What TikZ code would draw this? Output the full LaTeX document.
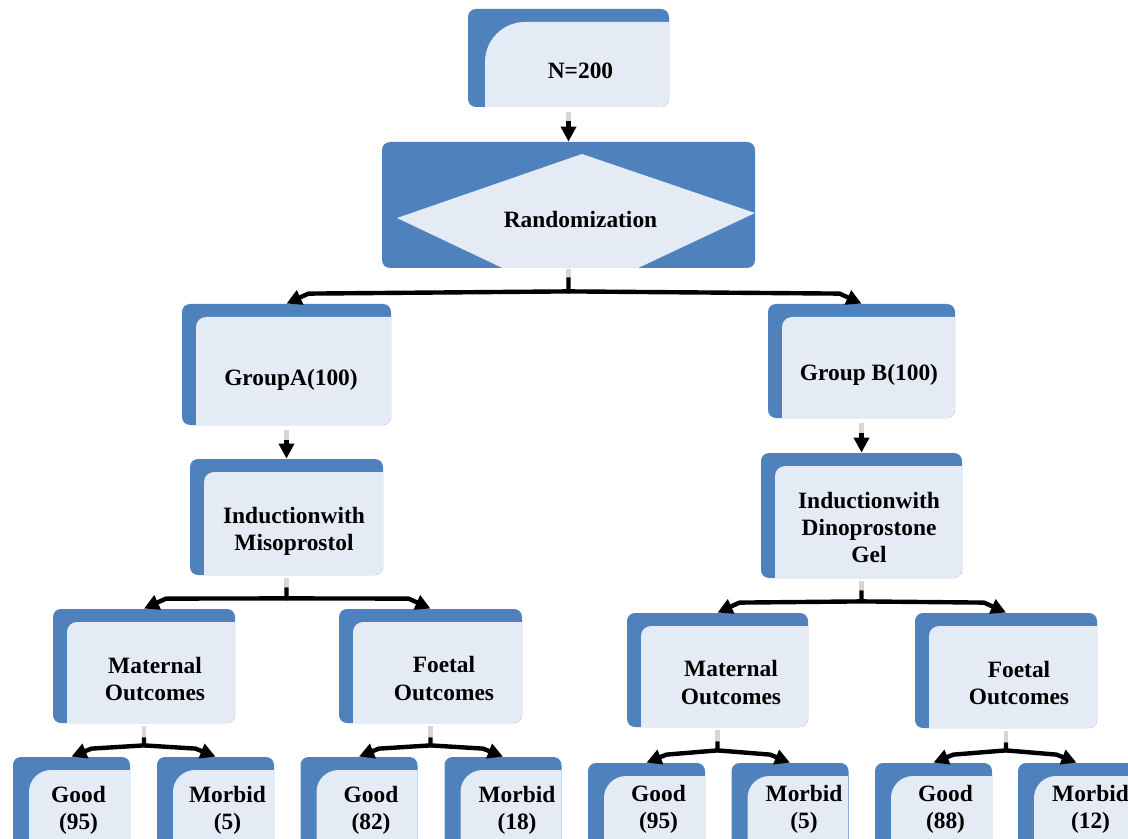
\documentclass[tikz,border=0pt]{standalone}
\usepackage{fontspec}
\setmainfont{Liberation Serif}
\usepackage{tikz}
\usetikzlibrary{arrows.meta}
\definecolor{cardblue}{HTML}{4F81BD}
\definecolor{cardlight}{HTML}{E5EBF4}
\definecolor{stubgray}{HTML}{D6D6D6}
\tikzset{card inx/.store in=\cardinx, card iny/.store in=\cardiny, card rad/.store in=\cardrad,
	card inx=7pt, card iny=6.5pt, card rad=5pt}
\tikzstyle{card}=[rectangle,fill=cardblue,rounded corners=4pt,inner sep=0pt,
	path picture={\fill[cardlight,sharp corners]
		([xshift=\cardinx]path picture bounding box.south west)
		-- ([xshift=\cardinx,yshift=-\cardiny-\cardrad]path picture bounding box.north west)
		arc[start angle=180,end angle=90,radius=\cardrad]
		-- ([yshift=-\cardiny]path picture bounding box.north east)
		-- (path picture bounding box.south east) -- cycle;}]
\tikzstyle{randbox}=[rectangle,fill=cardblue,rounded corners=4pt,inner sep=0pt,
	path picture={\fill[cardlight,sharp corners]
		([shift={(-85.75pt,-6.5pt)}]path picture bounding box.center)
		-- ([shift={(6.75pt,25.5pt)}]path picture bounding box.center)
		-- ([shift={(93.25pt,-4pt)}]path picture bounding box.center)
		-- ([shift={(0.75pt,-47.5pt)}]path picture bounding box.center) -- cycle;}]
\tikzstyle{cardtext}=[inner sep=0pt,align=center,text=black,
	font=\bfseries\fontsize{11.7}{13.6}\selectfont]
\tikzstyle{flow}=[line width=2.2pt,line join=round,-{Triangle[length=7.5pt,width=7.5pt]}]
\tikzstyle{stub}=[line width=2.2pt,draw=stubgray]

\begin{document}
\begin{tikzpicture}[x=0.5pt,y=-0.5pt]
	\useasboundingbox (0,0) rectangle (1128,839);
	\clip (0,0) rectangle (1128,839);

	% top
	\node[card,card inx=8.5pt,card rad=20pt,minimum width=100.5pt,minimum height=49pt,
		label={[cardtext,xshift=6pt,yshift=-6.25pt]center:N=200}] (n200) at (568.5,58) {};
	\node[randbox,minimum width=186.5pt,minimum height=63pt,
		label={[cardtext,xshift=6pt,yshift=-7pt]center:Randomization}] (rand) at (568.5,205) {};

	% groups
	\node[card,minimum width=104.5pt,minimum height=60.5pt,
		label={[cardtext,xshift=2.25pt,yshift=-7.75pt]center:GroupA(100)}] (grpA) at (286.5,364.5) {};
	\node[card,minimum width=93.5pt,minimum height=57pt,
		label={[cardtext,xshift=3.75pt,yshift=-7pt]center:Group B(100)}] (grpB) at (861.5,361) {};

	% induction
	\node[card,minimum width=96.5pt,minimum height=58pt,
		label={[cardtext,xshift=3.75pt,yshift=-7pt]center:Inductionwith\\Misoprostol}] (indA) at (286.5,517) {};
	\node[card,minimum width=100.5pt,minimum height=62.5pt,
		label={[cardtext,xshift=3.75pt,yshift=-6pt]center:Inductionwith\\Dinoprostone\\Gel}] (indB) at (861.5,515.5) {};

	% outcomes
	\node[card,minimum width=91pt,minimum height=57pt,
		label={[cardtext,xshift=5.5pt,yshift=-6.5pt]center:Maternal\\Outcomes}] (matA) at (144,666) {};
	\node[card,minimum width=91.5pt,minimum height=57pt,
		label={[cardtext,xshift=6.75pt,yshift=-6.25pt]center:Foetal\\Outcomes}] (foeA) at (430.5,666) {};
	\node[card,minimum width=90.5pt,minimum height=57pt,
		label={[cardtext,xshift=6.75pt,yshift=-6.25pt]center:Maternal\\Outcomes}] (matB) at (717.5,670) {};
	\node[card,minimum width=91pt,minimum height=57.5pt,
		label={[cardtext,xshift=6.5pt,yshift=-6.25pt]center:Foetal\\Outcomes}] (foeB) at (1006,670.5) {};

	% results
	\node[card,card inx=8pt,card rad=11pt,minimum width=58.5pt,minimum height=55pt,
		label={[cardtext,xshift=3.5pt,yshift=1pt]center:Good\\(95)}] (goodA1) at (71.5,812) {};
	\node[card,card inx=8pt,card rad=11pt,minimum width=58.5pt,minimum height=55pt,
		label={[cardtext,xshift=6pt,yshift=1pt]center:Morbid\\(5)}] (morbA1) at (215.5,812) {};
	\node[card,card inx=8pt,card rad=11pt,minimum width=58.5pt,minimum height=55pt,
		label={[cardtext,xshift=6pt,yshift=1pt]center:Good\\(82)}] (goodA2) at (359,812) {};
	\node[card,card inx=8pt,card rad=11pt,minimum width=58.5pt,minimum height=55pt,
		label={[cardtext,xshift=7pt,yshift=1pt]center:Morbid\\(18)}] (morbA2) at (503,812) {};
	\node[card,card inx=8pt,card rad=11pt,minimum width=58.5pt,minimum height=55pt,
		label={[cardtext,xshift=6pt,yshift=4.5pt]center:Good\\(95)}] (goodB1) at (646.5,818) {};
	\node[card,card inx=8pt,card rad=11pt,minimum width=58.5pt,minimum height=55pt,
		label={[cardtext,xshift=7pt,yshift=4.5pt]center:Morbid\\(5)}] (morbB1) at (790,818) {};
	\node[card,card inx=8pt,card rad=11pt,minimum width=58.5pt,minimum height=55pt,
		label={[cardtext,xshift=6pt,yshift=4.5pt]center:Good\\(88)}] (goodB2) at (933.5,818) {};
	\node[card,card inx=8pt,card rad=11pt,minimum width=58.5pt,minimum height=55pt,
		label={[cardtext,xshift=7pt,yshift=4.5pt]center:Morbid\\(12)}] (morbB2) at (1076.5,818) {};

	% straight arrows
	\draw[stub] ([yshift=-2.5pt]n200.south) -- ([yshift=-7pt]n200.south);
	\draw[flow] ([yshift=-7pt]n200.south) -- (rand.north);
	\draw[stub] ([yshift=-2.5pt]grpA.south) -- ([yshift=-7.5pt]grpA.south);
	\draw[flow] ([yshift=-7.5pt]grpA.south) -- (indA.north);
	\draw[stub] ([yshift=-2.5pt]grpB.south) -- ([yshift=-7.5pt]grpB.south);
	\draw[flow] ([yshift=-7.5pt]grpB.south) -- (indB.north);

	% split after randomization
	\coordinate (rj) at ([yshift=-11.5pt]rand.south);
	\draw[stub] ([yshift=-0.5pt]rand.south) -- ([yshift=-4.5pt]rand.south);
	\draw[flow] ([yshift=-4.5pt]rand.south) -- (rj)
		-- ([xshift=11pt,yshift=5pt]grpA.north) -- (grpA.north);
	\draw[flow] (rj) -- ([xshift=-11pt,yshift=5pt]grpB.north) -- (grpB.north);

	% split after induction
	\coordinate (iaj) at ([yshift=-11.5pt]indA.south);
	\draw[stub] ([yshift=-1.5pt]indA.south) -- ([yshift=-6pt]indA.south);
	\draw[flow] ([yshift=-6pt]indA.south) -- (iaj)
		-- ([xshift=11pt,yshift=5pt]matA.north) -- (matA.north);
	\draw[flow] (iaj) -- ([xshift=-11pt,yshift=5pt]foeA.north) -- (foeA.north);

	\coordinate (ibj) at ([yshift=-11.5pt]indB.south);
	\draw[stub] ([yshift=-1.5pt]indB.south) -- ([yshift=-6pt]indB.south);
	\draw[flow] ([yshift=-6pt]indB.south) -- (ibj)
		-- ([xshift=11pt,yshift=5pt]matB.north) -- (matB.north);
	\draw[flow] (ibj) -- ([xshift=-11pt,yshift=5pt]foeB.north) -- (foeB.north);

	% split after outcomes
	\coordinate (maj) at ([yshift=-11pt]matA.south);
	\draw[stub] ([yshift=-1.5pt]matA.south) -- ([yshift=-7pt]matA.south);
	\draw[flow] ([yshift=-7pt]matA.south) -- (maj)
		-- ([xshift=10pt,yshift=4pt]goodA1.north) -- (goodA1.north);
	\draw[flow] (maj) -- ([xshift=-10pt,yshift=4pt]morbA1.north) -- (morbA1.north);

	\coordinate (faj) at ([yshift=-11pt]foeA.south);
	\draw[stub] ([yshift=-1.5pt]foeA.south) -- ([yshift=-7pt]foeA.south);
	\draw[flow] ([yshift=-7pt]foeA.south) -- (faj)
		-- ([xshift=10pt,yshift=4pt]goodA2.north) -- (goodA2.north);
	\draw[flow] (faj) -- ([xshift=-10pt,yshift=4pt]morbA2.north) -- (morbA2.north);

	\coordinate (mbj) at ([yshift=-11.5pt]matB.south);
	\draw[stub] ([yshift=-1.5pt]matB.south) -- ([yshift=-7pt]matB.south);
	\draw[flow] ([yshift=-7pt]matB.south) -- (mbj)
		-- ([xshift=10pt,yshift=4pt]goodB1.north) -- (goodB1.north);
	\draw[flow] (mbj) -- ([xshift=-10pt,yshift=4pt]morbB1.north) -- (morbB1.north);

	\coordinate (fbj) at ([yshift=-11pt]foeB.south);
	\draw[stub] ([yshift=-1.5pt]foeB.south) -- ([yshift=-7pt]foeB.south);
	\draw[flow] ([yshift=-7pt]foeB.south) -- (fbj)
		-- ([xshift=10pt,yshift=4pt]goodB2.north) -- (goodB2.north);
	\draw[flow] (fbj) -- ([xshift=-10pt,yshift=4pt]morbB2.north) -- (morbB2.north);
\end{tikzpicture}
\end{document}
